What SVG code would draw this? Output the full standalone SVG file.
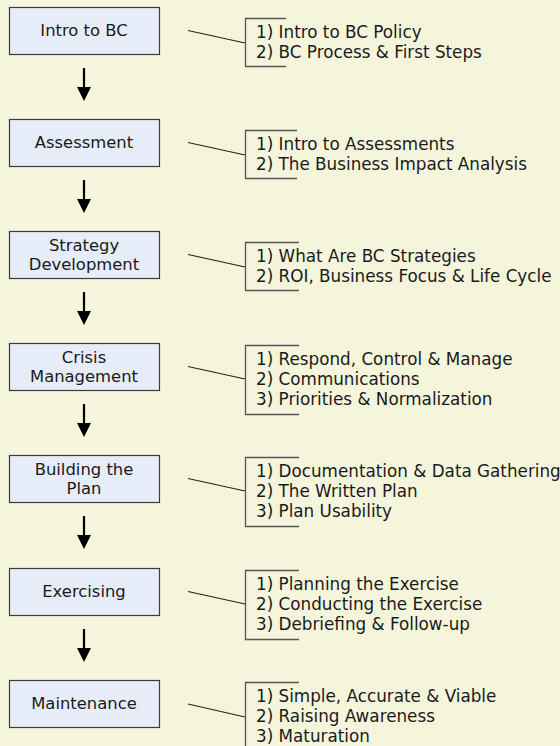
<svg xmlns="http://www.w3.org/2000/svg" width="560" height="746" viewBox="0 0 560 746">
  <style>
    .box { fill: #E6ECF8; stroke: #3C3C3C; stroke-width: 1.2; }
    .bt { font-family: "DejaVu Sans", Verdana, sans-serif; font-size: 16.4px; fill: #1A1A1A; text-anchor: middle; }
    .lt { font-family: "DejaVu Sans", Verdana, sans-serif; font-size: 16.8px; fill: #1A1A1A; }
    .br { fill: none; stroke: #555555; stroke-width: 1.3; }
    .ld { stroke: #222222; stroke-width: 1.1; }
    .ar { stroke: #000000; stroke-width: 2.2; }
    .ah { fill: #000000; }
  </style>
  <rect width="560" height="746" fill="#F5F5DC"/>

  <g id="connectors">
    <line class="ar" x1="84" y1="68" x2="84" y2="89"/><polygon class="ah" points="77,87 91,87 84,101"/>
    <line class="ar" x1="84" y1="180" x2="84" y2="201"/><polygon class="ah" points="77,199 91,199 84,213"/>
    <line class="ar" x1="84" y1="292" x2="84" y2="313"/><polygon class="ah" points="77,311 91,311 84,325"/>
    <line class="ar" x1="84" y1="404" x2="84" y2="425"/><polygon class="ah" points="77,423 91,423 84,437"/>
    <line class="ar" x1="84" y1="516" x2="84" y2="537"/><polygon class="ah" points="77,535 91,535 84,549"/>
    <line class="ar" x1="84" y1="629" x2="84" y2="650"/><polygon class="ah" points="77,648 91,648 84,662"/>
  </g>

  <g id="node-intro">
    <rect class="box" x="9.5" y="7.5" width="150" height="47"/>
    <text class="bt" x="84" y="35.5">Intro to BC</text>
  </g>
  <g id="notes-intro">
    <line class="ld" x1="188" y1="30.5" x2="245" y2="43"/>
    <path class="br" d="M286,18.5 H245.5 V66.5 H286"/>
    <text class="lt" x="256" y="38">1) Intro to BC Policy</text>
    <text class="lt" x="256" y="58">2) BC Process &amp; First Steps</text>
  </g>

  <g id="node-assessment">
    <rect class="box" x="9.5" y="119.5" width="150" height="47"/>
    <text class="bt" x="84" y="147.5">Assessment</text>
  </g>
  <g id="notes-assessment">
    <line class="ld" x1="188" y1="142.5" x2="245" y2="155"/>
    <path class="br" d="M297,130.5 H245.5 V178.5 H297"/>
    <text class="lt" x="256" y="150">1) Intro to Assessments</text>
    <text class="lt" x="256" y="170">2) The Business Impact Analysis</text>
  </g>

  <g id="node-strategy">
    <rect class="box" x="9.5" y="231.5" width="150" height="47"/>
    <text class="bt" x="84" y="250.5">Strategy</text>
    <text class="bt" x="84" y="269.5">Development</text>
  </g>
  <g id="notes-strategy">
    <line class="ld" x1="188" y1="254.5" x2="245" y2="267"/>
    <path class="br" d="M299,242.5 H245.5 V290.5 H299"/>
    <text class="lt" x="256" y="262">1) What Are BC Strategies</text>
    <text class="lt" x="256" y="282">2) ROI, Business Focus &amp; Life Cycle</text>
  </g>

  <g id="node-crisis">
    <rect class="box" x="9.5" y="343.5" width="150" height="47"/>
    <text class="bt" x="84" y="362.5">Crisis</text>
    <text class="bt" x="84" y="381.5">Management</text>
  </g>
  <g id="notes-crisis">
    <line class="ld" x1="188" y1="366.5" x2="245" y2="379"/>
    <path class="br" d="M299,345.5 H245.5 V414.5 H299"/>
    <text class="lt" x="256" y="365">1) Respond, Control &amp; Manage</text>
    <text class="lt" x="256" y="385">2) Communications</text>
    <text class="lt" x="256" y="405">3) Priorities &amp; Normalization</text>
  </g>

  <g id="node-building">
    <rect class="box" x="9.5" y="455.5" width="150" height="47"/>
    <text class="bt" x="84" y="474.5">Building the</text>
    <text class="bt" x="84" y="493.5">Plan</text>
  </g>
  <g id="notes-building">
    <line class="ld" x1="188" y1="478.5" x2="245" y2="491"/>
    <path class="br" d="M299,457.5 H245.5 V526.5 H299"/>
    <text class="lt" x="256" y="477">1) Documentation &amp; Data Gathering</text>
    <text class="lt" x="256" y="497">2) The Written Plan</text>
    <text class="lt" x="256" y="517">3) Plan Usability</text>
  </g>

  <g id="node-exercising">
    <rect class="box" x="9.5" y="568.5" width="150" height="47"/>
    <text class="bt" x="84" y="596.5">Exercising</text>
  </g>
  <g id="notes-exercising">
    <line class="ld" x1="188" y1="591.5" x2="245" y2="604"/>
    <path class="br" d="M299,570.5 H245.5 V639.5 H299"/>
    <text class="lt" x="256" y="590">1) Planning the Exercise</text>
    <text class="lt" x="256" y="610">2) Conducting the Exercise</text>
    <text class="lt" x="256" y="630">3) Debriefing &amp; Follow-up</text>
  </g>

  <g id="node-maintenance">
    <rect class="box" x="9.5" y="680.5" width="150" height="47"/>
    <text class="bt" x="84" y="708.5">Maintenance</text>
  </g>
  <g id="notes-maintenance">
    <line class="ld" x1="188" y1="704" x2="245" y2="717"/>
    <path class="br" d="M299,682.5 H245.5 V751.5 H299"/>
    <text class="lt" x="256" y="702">1) Simple, Accurate &amp; Viable</text>
    <text class="lt" x="256" y="722">2) Raising Awareness</text>
    <text class="lt" x="256" y="742">3) Maturation</text>
  </g>
</svg>
